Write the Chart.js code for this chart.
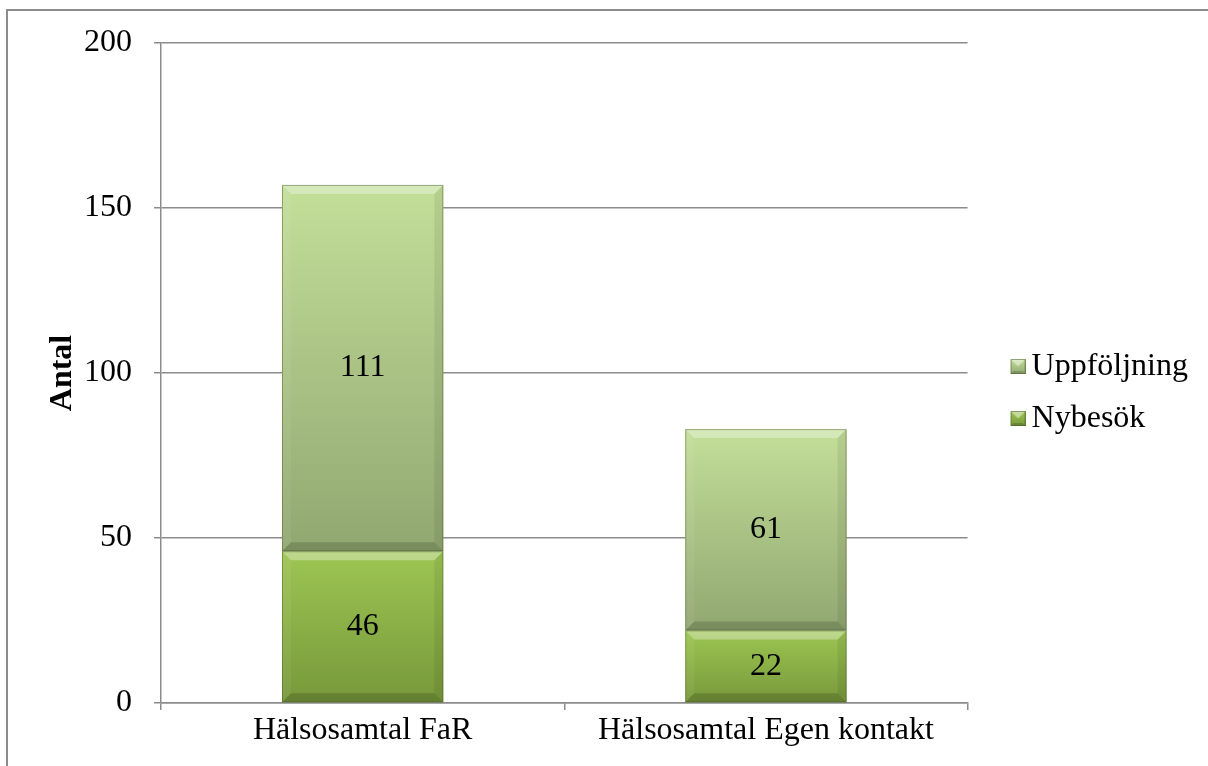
<!DOCTYPE html>
<html>
<head>
<meta charset="utf-8">
<script src="https://cdn.jsdelivr.net/npm/chart.js@4.4.1/dist/chart.umd.min.js"></script>
<style>
    html, body {margin: 0; padding: 0; background: #fff;}
    #wrap {position: relative; width: 1208px; height: 766px; overflow: hidden;}
    #frame {position: absolute; left: 6px; top: 9px; width: 1400px; height: 1000px; border: 2px solid #8c8c8c;}
    canvas {position: absolute; left: 0; top: 0;}
</style>
</head>
<body>
<div id="wrap">
    <div id="frame"></div>
    <canvas id="chart" width="1208" height="766"></canvas>
</div>
<script>
let categories = ["Hälsosamtal FaR", "Hälsosamtal Egen kontakt"]
let series_names = ["Nybesök", "Uppföljning"]
let nybesok = [46, 22]
let uppfoljning = [111, 61]
let y_ticks = [0, 50, 100, 150, 200]

let nybesok_colors = ["#9dc653", "#77983a"]
let uppfoljning_colors = ["#c3df99", "#91a771"]
let grid_color = "#8c8c8c"
let font_family = "'Liberation Serif', 'Times New Roman', serif"

Chart.defaults.font.family = font_family
Chart.defaults.color = "#000"

function segment_fill (colors, starts, values) {
    return function (ctx) {
        let chart = ctx.chart
        let y = chart.scales.y
        if (ctx.type !== "data" || !y) {return colors[1]}
        let i = ctx.dataIndex
        let top = y.getPixelForValue(starts[i] + values[i])
        let bottom = y.getPixelForValue(starts[i])
        if (!isFinite(top) || !isFinite(bottom) || top === bottom) {return colors[1]}
        let g = chart.ctx.createLinearGradient(0, top, 0, bottom)
        g.addColorStop(0, colors[0])
        g.addColorStop(1, colors[1])
        return g
    }
}

function poly (ctx, pts, color) {
    ctx.beginPath()
    ctx.moveTo(pts[0][0], pts[0][1])
    for (let p of pts.slice(1)) {ctx.lineTo(p[0], p[1])}
    ctx.closePath()
    ctx.fillStyle = color
    ctx.fill()
}

function legend_icon (colors) {
    let c = document.createElement("canvas")
    c.width = 48
    c.height = 16
    let g = c.getContext("2d")
    let s = 15, x = 48 - s, y = 0
    let grad = g.createLinearGradient(0, y, 0, y + s)
    grad.addColorStop(0, colors[0])
    grad.addColorStop(1, colors[1])
    g.fillStyle = grad
    g.fillRect(x, y, s, s)
    poly(g, [[x, y], [x + s, y], [x + s / 2, y + s / 2]], "rgba(255,255,255,0.45)")
    poly(g, [[x, y + s], [x + s, y + s], [x + s - 3, y + s - 3], [x + 3, y + s - 3]], "rgba(0,0,0,0.15)")
    g.strokeStyle = "rgba(70,90,40,0.5)"
    g.lineWidth = 1
    g.strokeRect(x + 0.5, y + 0.5, s - 1, s - 1)
    return c
}

let legend_icons = [legend_icon(nybesok_colors), legend_icon(uppfoljning_colors)]

const bar_decor = {
    id: "bar_decor",
    afterDatasetsDraw (chart) {
        let ctx = chart.ctx
        ctx.save()
        chart.data.datasets.forEach((ds, di) => {
            let meta = chart.getDatasetMeta(di)
            meta.data.forEach((bar, i) => {
                let x1 = bar.x - bar.width / 2
                let x2 = bar.x + bar.width / 2
                let top = Math.min(bar.y, bar.base)
                let bottom = Math.max(bar.y, bar.base)
                let b = Math.min(9, (bottom - top) / 3)
                poly(ctx, [[x1, top], [x2, top], [x2 - b, top + b], [x1 + b, top + b]], "rgba(255,255,255,0.32)")
                poly(ctx, [[x1, bottom], [x2, bottom], [x2 - b, bottom - b], [x1 + b, bottom - b]], "rgba(0,0,0,0.16)")
                poly(ctx, [[x1, top], [x1 + b, top + b], [x1 + b, bottom - b], [x1, bottom]], "rgba(255,255,255,0.06)")
                poly(ctx, [[x2, top], [x2 - b, top + b], [x2 - b, bottom - b], [x2, bottom]], "rgba(0,0,0,0.07)")
                ctx.strokeStyle = "rgba(70,90,40,0.45)"
                ctx.lineWidth = 1
                ctx.strokeRect(x1 + 0.5, top + 0.5, x2 - x1 - 1, bottom - top - 1)

                ctx.fillStyle = "#000"
                ctx.font = "32px " + font_family
                ctx.textAlign = "center"
                ctx.textBaseline = "middle"
                ctx.fillText(String(ds.data[i]), bar.x, (top + bottom) / 2)
            })
        })
        ctx.restore()
    }
}

let chart = new Chart("chart", {
    type: "bar",
    data: {
        labels: categories,
        datasets: [
            {
                label: series_names[0],
                data: nybesok,
                backgroundColor: segment_fill(nybesok_colors, [0, 0], nybesok),
                barPercentage: 0.8,
                categoryPercentage: 0.5
            },
            {
                label: series_names[1],
                data: uppfoljning,
                backgroundColor: segment_fill(uppfoljning_colors, nybesok, uppfoljning),
                barPercentage: 0.8,
                categoryPercentage: 0.5
            }
        ]
    },
    options: {
        responsive: false,
        animation: false,
        layout: {padding: {left: 20, right: 10, top: 43, bottom: 10}},
        scales: {
            x: {
                stacked: true,
                grid: {drawOnChartArea: false, color: grid_color, lineWidth: 1.5, tickLength: 7},
                border: {color: grid_color, width: 1.5},
                ticks: {font: {size: 32}, padding: 1, color: "#000"},
                afterFit: (scale) => {scale.height = 766 - 703 - 10}
            },
            y: {
                stacked: true,
                min: 0,
                max: 200,
                afterBuildTicks: (scale) => {scale.ticks = y_ticks.map(v => ({value: v}))},
                grid: {color: grid_color, lineWidth: 1.5, tickLength: 7},
                border: {color: grid_color, width: 1.5},
                ticks: {font: {size: 32}, padding: 22, color: "#000"},
                title: {display: true, text: "Antal", font: {size: 32, weight: "bold"}, padding: {top: 24, bottom: 0}, color: "#000"},
                afterFit: (scale) => {scale.width = 161 - 20}
            }
        },
        plugins: {
            legend: {
                position: "right",
                align: "start",
                reverse: true,
                title: {display: true, text: "", font: {size: 10}, padding: {top: 276, bottom: 0}},
                labels: {
                    font: {size: 32},
                    color: "#000",
                    padding: 20,
                    usePointStyle: true,
                    pointStyleWidth: 28,
                    boxHeight: 15,
                    generateLabels: function (chart) {
                        let items = Chart.defaults.plugins.legend.labels.generateLabels(chart)
                        for (let item of items) {item.pointStyle = legend_icons[item.datasetIndex]}
                        return items
                    }
                }
            },
            tooltip: {enabled: false}
        }
    },
    plugins: [bar_decor]
})
</script>
</body>
</html>
